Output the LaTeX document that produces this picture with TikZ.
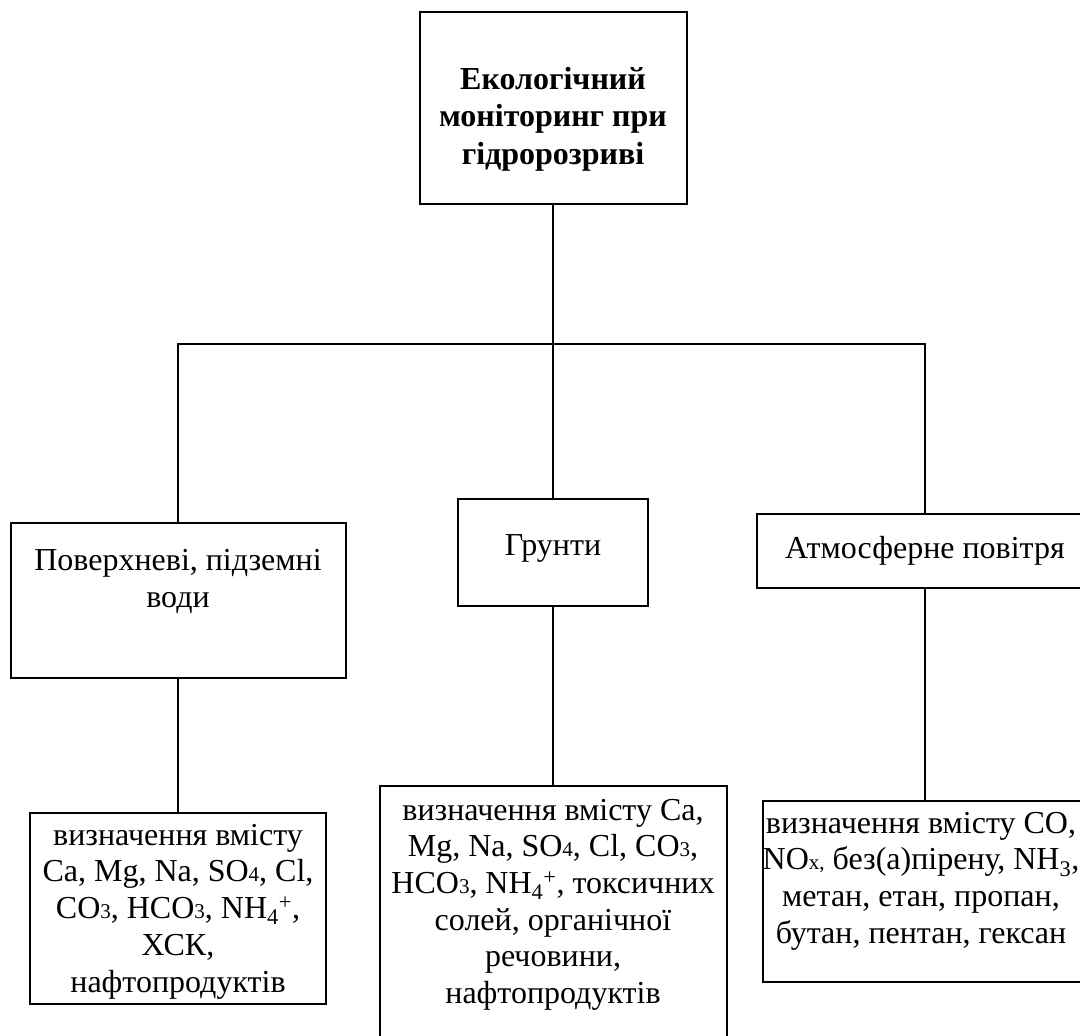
\documentclass[tikz,border=0pt]{standalone}
\usepackage{fontspec}
\setmainfont{Liberation Serif}
\newcommand{\lo}[1]{{\fontsize{21}{21}\selectfont #1}}
\newcommand{\nhf}{NH\textsubscript{4}\textsuperscript{+}}
\begin{document}
\begin{tikzpicture}[x=1pt, y=-1pt, line width=2pt,
    box/.style={draw, inner sep=0pt, align=center, font=\fontsize{32}{36.7}\selectfont},
    txt/.style={inner sep=0pt, align=center, font=\fontsize{32}{36.7}\selectfont}]
        \useasboundingbox (0,0) rectangle (1080,1036);
        \clip (0,0) rectangle (1080,1036);
        % top
        \node[box, minimum width=267pt, minimum height=192pt] (eco) at (553, 108) {};
        \node[txt, font=\fontsize{32}{37.5}\selectfont\bfseries] (ecot) at ([yshift=-11pt]eco.center)
            {Екологічний\\моніторинг при\\гідророзриві};
        % objects
        \node[box, minimum width=335pt, minimum height=155pt] (vody) at (178, 600.5) {};
        \node[txt] (vodyt) at ([yshift=19pt]vody.center) {Поверхневі, підземні\\води};
        \node[box, minimum width=190pt, minimum height=107pt] (grunt) at (553, 552.5) {};
        \node[txt] (gruntt) at ([yshift=4pt]grunt.center) {Грунти};
        \node[box, minimum width=336pt, minimum height=74pt] (atm) at (925, 551) {Атмосферне повітря};
        % what is measured
        \node[box, minimum width=296pt, minimum height=191pt] (vodyz) at (178, 908.5) {};
        \node[txt] (vodyzt) at ([yshift=-3pt]vodyz.center)
            {визначення вмісту\\Ca, Mg, Na, SO\lo{4}, Cl,\\CO\lo{3}, HCO\lo{3}, \nhf,\\ХСК,\\нафтопродуктів};
        \node[box, minimum width=347pt, minimum height=280pt] (gruntz) at (553, 926) {};
        \node[txt, anchor=north, yshift=-13pt] (gruntzt) at (gruntz.north)
            {визначення вмісту Ca,\\Mg, Na, SO\lo{4}, Cl, CO\lo{3},\\HCO\lo{3}, \nhf, токсичних\\солей, органічної\\речовини,\\нафтопродуктів};
        \node[box, minimum width=324pt, minimum height=181pt] (atmz) at (925, 891.5) {};
        \node[txt, anchor=north, yshift=-11pt, xshift=-4pt] (atmzt) at (atmz.north)
            {визначення вмісту CO,\\NO\lo{x,} без(а)пірену, NH\textsubscript{3},\\метан, етан, пропан,\\бутан, пентан, гексан};
        \coordinate (fork) at (553, 344);
        \draw (eco.south) -- (grunt.north);
        \draw (vody.north) |- (fork) -| (atm.north);
        \draw (vody.south) -- (vodyz.north);
        \draw (grunt.south) -- (gruntz.north);
        \draw (atm.south) -- (atmz.north);
      \end{tikzpicture}
\end{document}
